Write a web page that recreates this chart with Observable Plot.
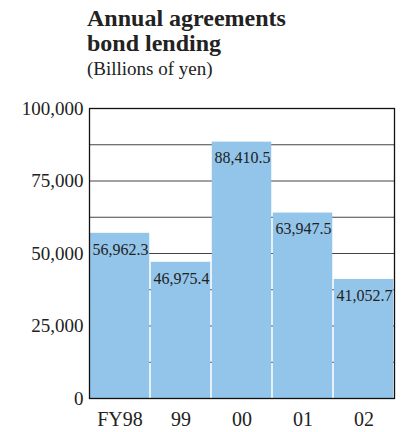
<!DOCTYPE html>
<html>
<head>
<meta charset="utf-8">
<script src="https://cdn.jsdelivr.net/npm/d3@7"></script>
<script src="https://cdn.jsdelivr.net/npm/@observablehq/plot@0.6"></script>
<style>
  html, body { margin: 0; padding: 0; background: #fff; }
  #wrap { position: relative; width: 401px; height: 432px; font-family: "Liberation Serif", "DejaVu Serif", serif; color: #222; }
  #header { position: relative; height: 90px; }
  #title { position: absolute; left: 87px; top: 6px; font-size: 24px; font-weight: bold; line-height: 25px; }
  #subtitle { position: absolute; left: 87px; top: 58px; font-size: 19px; line-height: 22px; }
  svg { display: block; }
</style>
</head>
<body>
<div id="wrap">
  <div id="header">
    <div id="title">Annual agreements<br>bond lending</div>
    <div id="subtitle">(Billions of yen)</div>
  </div>
  <div id="chart"></div>
</div>
<script>
const years = ["FY98", "99", "00", "01", "02"];
const values = [56962.3, 46975.4, 88410.5, 63947.5, 41052.7];
const yTicks = [0, 25000, 50000, 75000, 100000];
const gridLines = [12500, 25000, 37500, 50000, 62500, 75000, 87500];

const data = years.map((y, i) => ({year: y, value: values[i]}));

const W = 401, H = 342, mL = 89, mR = 7, mT = 18, mB = 34;
const bw = (W - mL - mR) / years.length;

const chart = Plot.plot({
  width: W,
  height: H,
  marginLeft: mL,
  marginRight: mR,
  marginTop: mT,
  marginBottom: mB,
  style: {fontFamily: "Liberation Serif, serif", color: "#222", background: "#fff", overflow: "visible"},
  x: {domain: years, padding: 0, label: null, tickSize: 0, tickPadding: 13},
  y: {domain: [0, 100000], ticks: yTicks, tickFormat: d3.format(","), label: null, tickSize: 0, tickPadding: 6},
  marks: [
    Plot.ruleY(gridLines, {stroke: "#444", strokeWidth: 1.2}),
    Plot.barY(data, {x: "year", y: "value", fill: "#92c5e9", insetLeft: 0.75, insetRight: 0.75}),
    Plot.text(data, {x: "year", y: "value", text: d => d3.format(",.1f")(d.value), textAnchor: "start", lineAnchor: "top", dx: -bw / 2 + 3, dy: 10, fontSize: 16, fill: "#222"}),
    Plot.frame({stroke: "#111", strokeWidth: 1.3}),
    Plot.axisX({tickSize: 0, tickPadding: 13, fontSize: 20}),
    Plot.axisY({ticks: yTicks, tickFormat: d3.format(","), tickSize: 0, tickPadding: 6, fontSize: 19})
  ]
});
document.getElementById("chart").appendChild(chart);
</script>
</body>
</html>
